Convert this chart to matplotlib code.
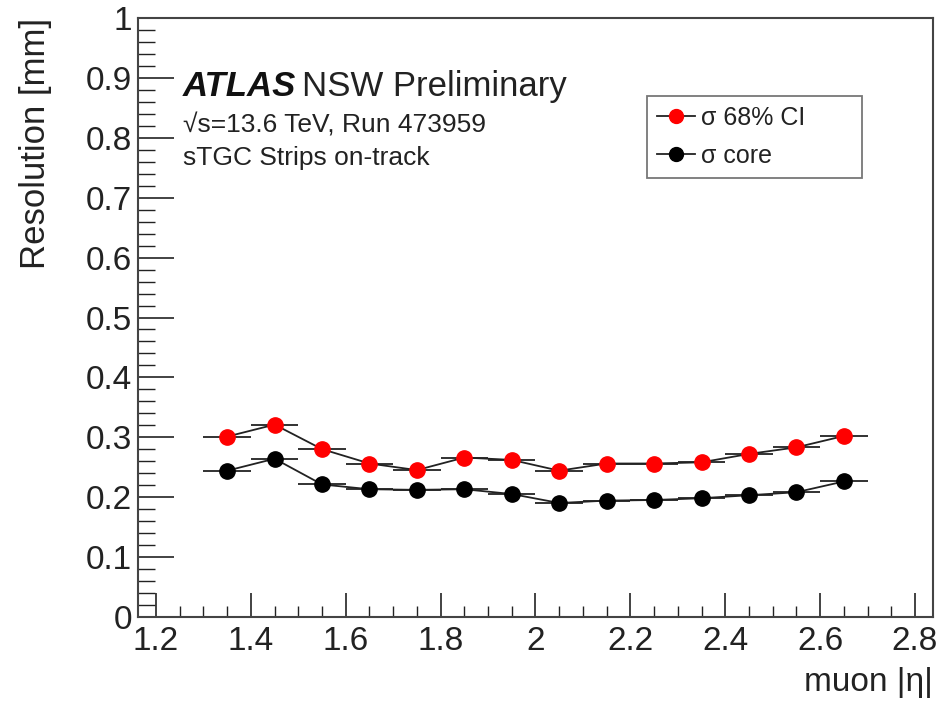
import numpy as np
import matplotlib
matplotlib.use("Agg")
from matplotlib import pyplot as plt
from matplotlib.lines import Line2D
from matplotlib.ticker import MultipleLocator

# muon |eta| bin centres and half widths
eta = [1.35, 1.45, 1.55, 1.65, 1.75, 1.85, 1.95, 2.05, 2.15, 2.25, 2.35, 2.45, 2.55, 2.65]
eta_err = [0.05] * len(eta)

# resolution in mm
sigma_ci68 = [0.301, 0.321, 0.280, 0.256, 0.245, 0.266, 0.262, 0.244,
              0.256, 0.256, 0.258, 0.272, 0.283, 0.302]
sigma_core = [0.244, 0.264, 0.221, 0.213, 0.212, 0.213, 0.205, 0.190,
              0.194, 0.195, 0.198, 0.203, 0.208, 0.226]

labels = ["\u03c3 68% CI", "\u03c3 core"]
xtick_labels = ["1.2", "1.4", "1.6", "1.8", "2", "2.2", "2.4", "2.6", "2.8"]
ytick_labels = ["0", "0.1", "0.2", "0.3", "0.4", "0.5", "0.6", "0.7", "0.8", "0.9", "1"]

plt.rcParams['font.family'] = ['Liberation Sans', 'DejaVu Sans']
W, H = 941, 701
ink = '#222222'

fig = plt.figure(figsize=(W / 100, H / 100), dpi=100)
ax = fig.add_axes([137.5 / W, 1 - 616.7 / H, (933.3 - 137.5) / W, (616.7 - 18.3) / H])

for vals, col in zip([sigma_ci68, sigma_core], ["#ff0000", "black"]):
    ax.errorbar(eta, vals, xerr=eta_err, fmt='-o', color=ink, lw=1.3,
                elinewidth=1.3, ms=11, mfc=col, mec=col, capsize=0, zorder=3)

ax.set_xlim(1.161, 2.8386)
ax.set_ylim(0, 1)
ax.set_xticks(np.arange(1.2, 2.81, 0.2))
ax.set_xticklabels(xtick_labels)
ax.set_yticks(np.arange(0, 1.01, 0.1))
ax.set_yticklabels(ytick_labels)
ax.xaxis.set_minor_locator(MultipleLocator(0.05))
ax.yaxis.set_minor_locator(MultipleLocator(0.02))

ax.tick_params(axis='both', which='both', direction='in', labelsize=24, colors=ink)
ax.tick_params(axis='x', which='major', length=17, width=1.2, pad=7)
ax.tick_params(axis='x', which='minor', length=8, width=1.0)
ax.tick_params(axis='y', which='major', length=26, width=1.2, pad=4)
ax.tick_params(axis='y', which='minor', length=12, width=1.0)
for sp in ax.spines.values():
    sp.set_linewidth(1.5)
    sp.set_color('#444444')

ax.set_xlabel("muon |\u03b7|", fontsize=24, loc='right', labelpad=7, color=ink)
ax.set_ylabel("Resolution [mm]", fontsize=25, loc='top', labelpad=24, color=ink)

# ATLAS label block
fig.text(183 / W, 1 - 96 / H, "ATLAS", fontsize=25, fontweight='bold', fontstyle='italic',
         color='#111111', va='baseline')
fig.text(302 / W, 1 - 96 / H, "NSW Preliminary", fontsize=25, color=ink, va='baseline')
fig.text(183 / W, 1 - 133 / H, "\u221as=13.6 TeV, Run 473959", fontsize=19,
         color=ink, va='baseline')
fig.text(183 / W, 1 - 165 / H, "sTGC Strips on-track", fontsize=19,
         color=ink, va='baseline')

handles = [Line2D([], [], color=ink, lw=1.3, marker='o', ms=10, mfc=c, mec=c)
           for c in ["#ff0000", "black"]]
leg = ax.legend(handles, labels, loc='upper left',
                bbox_to_anchor=(647 / W, 1 - 96 / H, (862 - 647) / W, 0.0),
                bbox_transform=fig.transFigure, mode='expand', fontsize=18,
                frameon=True, fancybox=False, edgecolor='#555555', borderpad=0.4,
                labelspacing=0.55, handlelength=1.5, handletextpad=0.25, borderaxespad=0)
leg.get_frame().set_linewidth(1.3)
for txt in leg.get_texts():
    txt.set_color(ink)

fig.savefig("out.png", dpi=100)
